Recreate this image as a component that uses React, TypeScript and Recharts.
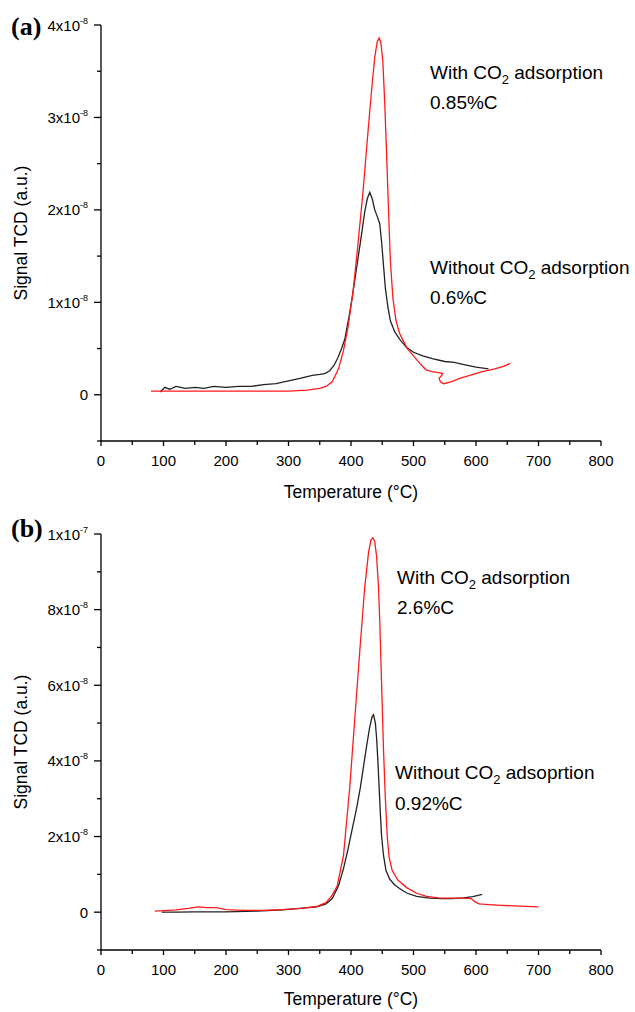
import React from 'react';
import { LineChart, Line, XAxis, YAxis } from 'recharts';

// ---------- data (signal in units of 1e-8 a.u.) ----------
const A_RED_T = [80, 120, 160, 200, 250, 300, 330, 350, 360, 370, 380, 388, 395, 403, 410, 419, 426, 433, 438, 442, 445, 448, 451, 454, 457, 460, 463, 467, 472, 478, 484, 490, 500, 510, 520, 530, 540, 547, 544, 541, 543, 548, 560, 575, 590, 610, 630, 645, 655];
const A_RED_S = [0.04, 0.04, 0.04, 0.04, 0.04, 0.04, 0.05, 0.07, 0.09, 0.14, 0.28, 0.48, 0.72, 1.1, 1.55, 2.18, 2.75, 3.3, 3.65, 3.82, 3.86, 3.8, 3.6, 3.15, 2.6, 2.0, 1.45, 1.05, 0.8, 0.66, 0.58, 0.5, 0.42, 0.34, 0.27, 0.25, 0.24, 0.23, 0.2, 0.18, 0.14, 0.12, 0.14, 0.18, 0.21, 0.25, 0.28, 0.31, 0.34];

const A_BLACK_T = [95, 102, 110, 120, 135, 150, 165, 180, 200, 220, 240, 260, 280, 300, 320, 338, 350, 358, 366, 373, 379, 385, 390, 397, 403, 410, 417, 422, 426, 430, 434, 438, 442, 446, 449, 452, 455, 459, 463, 470, 478, 489, 500, 515, 530, 550, 565, 579, 600, 620];
const A_BLACK_S = [0.03, 0.08, 0.06, 0.09, 0.07, 0.08, 0.07, 0.09, 0.08, 0.09, 0.09, 0.11, 0.12, 0.15, 0.18, 0.21, 0.22, 0.23, 0.26, 0.32, 0.4, 0.5, 0.6, 0.85, 1.1, 1.42, 1.74, 1.98, 2.12, 2.19, 2.12, 2.0, 1.93, 1.85, 1.65, 1.4, 1.15, 0.95, 0.8, 0.68, 0.6, 0.51, 0.46, 0.42, 0.39, 0.36, 0.35, 0.33, 0.3, 0.28];

const B_RED_T = [86, 100, 120, 140, 155, 170, 185, 200, 230, 260, 290, 320, 345, 360, 370, 378, 388, 398, 406, 414, 422, 428, 432, 435, 438, 441, 444, 446, 449, 452, 455, 458, 461, 466, 475, 489, 505, 521, 540, 560, 580, 592, 598, 605, 620, 640, 670, 700];
const B_RED_S = [0.03, 0.04, 0.06, 0.1, 0.14, 0.12, 0.12, 0.07, 0.05, 0.05, 0.07, 0.1, 0.15, 0.25, 0.45, 0.7, 1.5, 3.3, 5.1, 6.9, 8.6, 9.5, 9.85, 9.9, 9.8, 9.4, 8.6, 7.7, 6.0, 4.3, 3.0, 2.0, 1.45, 1.1, 0.85, 0.65, 0.5, 0.42, 0.38, 0.37, 0.37, 0.36, 0.28, 0.22, 0.2, 0.18, 0.16, 0.14];

const B_BLACK_T = [97, 120, 150, 200, 250, 290, 318, 345, 360, 370, 380, 388, 395, 402, 409, 415, 420, 425, 430, 434, 436, 439, 441, 443, 445, 447, 449, 452, 456, 462, 470, 480, 490, 505, 526, 545, 563, 580, 595, 610];
const B_BLACK_S = [0.0, 0.0, 0.01, 0.01, 0.03, 0.06, 0.1, 0.14, 0.22, 0.36, 0.7, 1.15, 1.65, 2.2, 2.75, 3.3, 3.85, 4.4, 4.9, 5.18, 5.22, 5.0, 4.6, 4.0, 3.3, 2.6, 2.0, 1.5, 1.1, 0.87, 0.72, 0.6, 0.5, 0.42, 0.37, 0.36, 0.36, 0.38, 0.41, 0.47];

// ---------- ticks ----------
const X_TICKS = [0, 50, 100, 150, 200, 250, 300, 350, 400, 450, 500, 550, 600, 650, 700, 750, 800];
const X_MAJOR = [0, 100, 200, 300, 400, 500, 600, 700, 800];

const A_Y_TICKS = [-0.5, 0, 0.5, 1, 1.5, 2, 2.5, 3, 3.5, 4];
const A_Y_MAJOR = [0, 1, 2, 3, 4];
const A_Y_BASE = ['0', '1x10', '2x10', '3x10', '4x10'];
const A_Y_EXP = ['', '-8', '-8', '-8', '-8'];

const B_Y_TICKS = [-1, 0, 1, 2, 3, 4, 5, 6, 7, 8, 9, 10];
const B_Y_MAJOR = [0, 2, 4, 6, 8, 10];
const B_Y_BASE = ['0', '2x10', '4x10', '6x10', '8x10', '1x10'];
const B_Y_EXP = ['', '-8', '-8', '-8', '-8', '-7'];

const zip = (t: number[], s: number[]) => t.map((x, i) => ({ t: x, s: s[i] }));

const FONT = '"Liberation Sans", Arial, Helvetica, sans-serif';
const SERIF = '"Liberation Serif", "Times New Roman", serif';
const RED = '#ff1a1a';
const BLACK = '#222222';

const makeYTick = (majors: number[], bases: string[], exps: string[]) => (props: any) => {
  const { x, y, payload } = props;
  const i = majors.indexOf(payload.value);
  const isMajor = i >= 0;
  return (
    <g>
      <line x1={x - (isMajor ? 7 : 4)} x2={x} y1={y} y2={y} stroke="#000" strokeWidth={1.3} />
      {isMajor && (
        <text x={x - 13} y={y + 5.5} textAnchor="end" fontSize={15} fontFamily={FONT} fill="#000">
          {bases[i]}
          {exps[i] ? (
            <tspan dy={-7} fontSize={9}>
              {exps[i]}
            </tspan>
          ) : null}
        </text>
      )}
    </g>
  );
};

const XTick = (props: any) => {
  const { x, y, payload } = props;
  const isMajor = X_MAJOR.indexOf(payload.value) >= 0;
  return (
    <g>
      <line x1={x} x2={x} y1={y} y2={y + (isMajor ? 5 : 4)} stroke="#000" strokeWidth={1.3} />
      {isMajor && (
        <text x={x} y={y + 25} textAnchor="middle" fontSize={15} fontFamily={FONT} fill="#000">
          {payload.value}
        </text>
      )}
    </g>
  );
};

type PanelProps = {
  top: number;
  marginTop: number;
  marginBottom: number;
  domain: [number, number];
  yTicks: number[];
  yTick: (p: any) => any;
  red: { t: number; s: number }[];
  black: { t: number; s: number }[];
};

const Panel = ({ top, marginTop, marginBottom, domain, yTicks, yTick, red, black }: PanelProps) => (
  <div style={{ position: 'absolute', left: 0, top, width: 635, height: 506 }}>
    <LineChart width={635} height={506} margin={{ top: marginTop, right: 34, bottom: marginBottom, left: 41 }}>
      <XAxis
        dataKey="t"
        type="number"
        domain={[0, 800]}
        ticks={X_TICKS}
        interval={0}
        tickSize={0}
        tickMargin={0}
        tickLine={false}
        tick={XTick}
        height={30}
        axisLine={{ stroke: '#000', strokeWidth: 1.3 }}
        allowDataOverflow
      />
      <YAxis
        type="number"
        domain={domain}
        ticks={yTicks}
        interval={0}
        tickSize={0}
        tickMargin={0}
        tickLine={false}
        tick={yTick}
        width={60}
        axisLine={{ stroke: '#000', strokeWidth: 1.3 }}
        allowDataOverflow
      />
      <Line data={black} dataKey="s" type="linear" stroke={BLACK} strokeWidth={1.3} dot={false} isAnimationActive={false} />
      <Line data={red} dataKey="s" type="linear" stroke={RED} strokeWidth={1.3} dot={false} isAnimationActive={false} />
    </LineChart>
  </div>
);

const CO2 = ({ x, y, pre, post }: { x: number; y: number; pre: string; post: string }) => (
  <text x={x} y={y} fontSize={19} fontFamily={FONT} fill="#000">
    {pre}
    <tspan dy={5} fontSize={13}>2</tspan>
    <tspan dy={-5}>{post}</tspan>
  </text>
);

export default function App() {
  return (
    <div style={{ position: 'absolute', left: 0, top: 0, width: 635, height: 1012, background: '#fff', overflow: 'hidden' }}>
      <Panel
        top={0}
        marginTop={25}
        marginBottom={35}
        domain={[-0.5, 4]}
        yTicks={A_Y_TICKS}
        yTick={makeYTick(A_Y_MAJOR, A_Y_BASE, A_Y_EXP)}
        red={zip(A_RED_T, A_RED_S)}
        black={zip(A_BLACK_T, A_BLACK_S)}
      />
      <Panel
        top={506}
        marginTop={28}
        marginBottom={32}
        domain={[-1, 10]}
        yTicks={B_Y_TICKS}
        yTick={makeYTick(B_Y_MAJOR, B_Y_BASE, B_Y_EXP)}
        red={zip(B_RED_T, B_RED_S)}
        black={zip(B_BLACK_T, B_BLACK_S)}
      />
      <svg width={635} height={1012} style={{ position: 'absolute', left: 0, top: 0, pointerEvents: 'none' }}>
        <text x={11} y={35} fontSize={26} fontWeight="bold" fontFamily={SERIF} fill="#000">(a)</text>
        <text x={11} y={537} fontSize={26} fontWeight="bold" fontFamily={SERIF} fill="#000">(b)</text>

        <text transform="translate(27,233) rotate(-90)" textAnchor="middle" fontSize={17.5} fontFamily={FONT} fill="#000">Signal TCD (a.u.)</text>
        <text transform="translate(27,742) rotate(-90)" textAnchor="middle" fontSize={17.5} fontFamily={FONT} fill="#000">Signal TCD (a.u.)</text>

        <text x={351} y={498} textAnchor="middle" fontSize={17.5} fontFamily={FONT} fill="#000">Temperature (°C)</text>
        <text x={351} y={1005} textAnchor="middle" fontSize={17.5} fontFamily={FONT} fill="#000">Temperature (°C)</text>

        <CO2 x={430} y={79} pre="With CO" post=" adsorption" />
        <text x={430} y={109} fontSize={19} fontFamily={FONT} fill="#000">0.85%C</text>
        <CO2 x={430} y={274} pre="Without CO" post=" adsorption" />
        <text x={430} y={304} fontSize={19} fontFamily={FONT} fill="#000">0.6%C</text>

        <CO2 x={397} y={584} pre="With CO" post=" adsorption" />
        <text x={397} y={614} fontSize={19} fontFamily={FONT} fill="#000">2.6%C</text>
        <CO2 x={395} y={779} pre="Without CO" post=" adsoprtion" />
        <text x={395} y={810} fontSize={19} fontFamily={FONT} fill="#000">0.92%C</text>
      </svg>
    </div>
  );
}
